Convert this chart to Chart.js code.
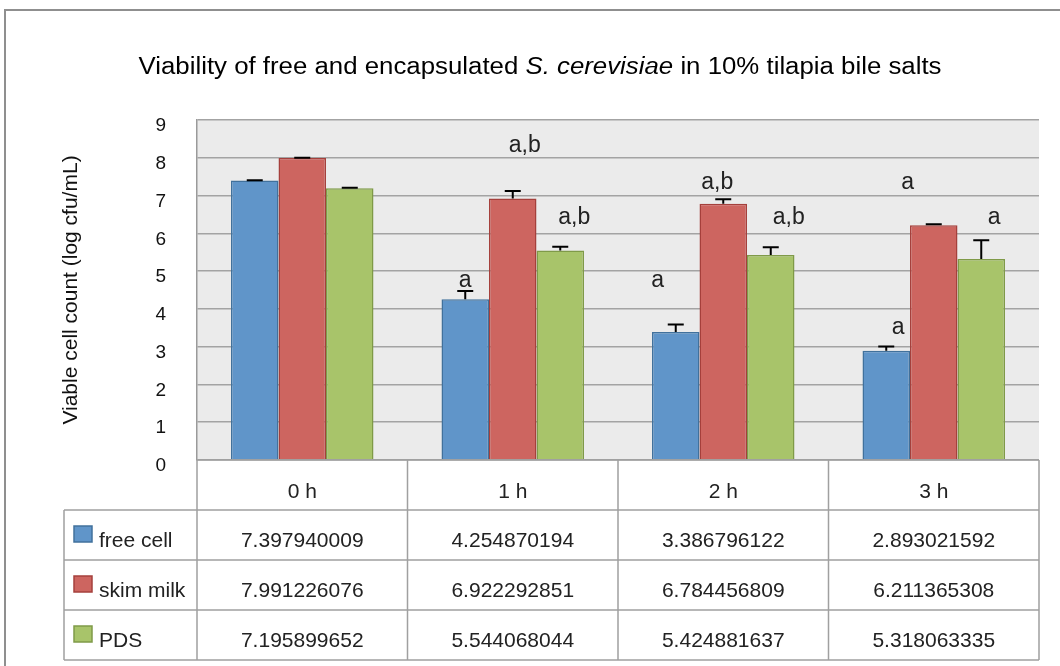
<!DOCTYPE html>
<html>
<head>
<meta charset="utf-8">
<script src="https://cdn.jsdelivr.net/npm/chart.js@4"></script>
<style>
  body { margin: 0; background: #fff; }
</style>
</head>
<body>
<canvas id="viability" width="1060" height="666"></canvas>
<script>
const categories = ["0 h", "1 h", "2 h", "3 h"];
const freeCell = [7.397940009, 4.254870194, 3.386796122, 2.893021592];
const skimMilk = [7.991226076, 6.922292851, 6.784456809, 6.211365308];
const pds = [7.195899652, 5.544068044, 5.424881637, 5.318063335];

// error bar size
const freeCellErr = [0.01, 0.22, 0.2, 0.11];
const skimMilkErr = [0.01, 0.2, 0.12, 0.03];
const pdsErr = [0.01, 0.1, 0.21, 0.5];

// significance letters and the height (in log units) they sit at
const freeCellMarks = ["", "a", "a", "a"];
const freeCellMarkAt = [0, 4.76, 4.76, 3.49];
const skimMilkMarks = ["", "a,b", "a,b", "a"];
const skimMilkMarkAt = [0, 8.31, 7.33, 7.33];
const pdsMarks = ["", "a,b", "a,b", "a"];
const pdsMarkAt = [0, 6.41, 6.41, 6.41];

// sideways nudge of the letters, px
const markShift = [
  [0, 0, -18, 12],
  [0, 12, -6, -26],
  [0, 14, 18, 13],
];

const FONT = '"Liberation Sans", Arial, sans-serif';
Chart.defaults.font.family = FONT;
Chart.defaults.color = "#111";

const errs = [freeCellErr, skimMilkErr, pdsErr];
const marks = [freeCellMarks, skimMilkMarks, pdsMarks];
const markAt = [freeCellMarkAt, skimMilkMarkAt, pdsMarkAt];

const TABLE_TOP_ROW = 50;
const ROW_H = 50;
const LEGEND_LEFT = 64;
const TITLE_W = 803;

const excelLook = {
  id: "excelLook",
  beforeDraw(chart) {
    const { ctx, chartArea: a } = chart;
    ctx.save();
    ctx.fillStyle = "#fff";
    ctx.fillRect(0, 0, chart.width, chart.height);
    // outer frame
    ctx.strokeStyle = "#8f8f8f";
    ctx.lineWidth = 2;
    ctx.beginPath();
    ctx.moveTo(5, chart.height);
    ctx.lineTo(5, 10);
    ctx.lineTo(chart.width, 10);
    ctx.stroke();
    // plot area
    ctx.fillStyle = "#ebebeb";
    ctx.fillRect(a.left, a.top, a.right - a.left, a.bottom - a.top);
    ctx.restore();

    // title with italic species name, stretched a bit like the original
    const parts = [
      ["normal", "Viability of free and encapsulated "],
      ["italic", "S. cerevisiae"],
      ["normal", " in 10% tilapia bile salts"],
    ];
    ctx.save();
    let total = 0;
    parts.forEach((p) => {
      ctx.font = p[0] + " 23px " + FONT;
      total += ctx.measureText(p[1]).width;
    });
    const sx = TITLE_W / total;
    ctx.translate(540 - TITLE_W / 2, 68);
    ctx.scale(sx, 1);
    let x = 0;
    ctx.fillStyle = "#000";
    ctx.textBaseline = "middle";
    ctx.textAlign = "left";
    parts.forEach((p) => {
      ctx.font = p[0] + " 23px " + FONT;
      ctx.fillText(p[1], x, 0);
      x += ctx.measureText(p[1]).width;
    });
    ctx.restore();
  },
  afterDatasetsDraw(chart) {
    const { ctx } = chart;
    const y = chart.scales.y;
    ctx.save();
    chart.data.datasets.forEach((ds, d) => {
      const meta = chart.getDatasetMeta(d);
      meta.data.forEach((bar, i) => {
        const top = y.getPixelForValue(ds.data[i] + errs[d][i]);
        ctx.strokeStyle = "#000";
        ctx.lineWidth = 2;
        ctx.beginPath();
        ctx.moveTo(bar.x, bar.y);
        ctx.lineTo(bar.x, top);
        ctx.moveTo(bar.x - 8, top);
        ctx.lineTo(bar.x + 8, top);
        ctx.stroke();

        if (marks[d][i]) {
          ctx.fillStyle = "#222";
          ctx.font = "23px " + FONT;
          ctx.textAlign = "center";
          ctx.textBaseline = "middle";
          ctx.fillText(marks[d][i], bar.x + markShift[d][i], y.getPixelForValue(markAt[d][i]));
        }
      });
    });
    ctx.restore();
  },
  afterDraw(chart) {
    const { ctx, chartArea: a } = chart;
    const n = categories.length;
    const cw = (a.right - a.left) / n;
    const t0 = a.bottom;
    const t1 = t0 + TABLE_TOP_ROW;
    const rows = chart.data.datasets.length;
    const tEnd = t1 + rows * ROW_H;
    ctx.save();
    ctx.strokeStyle = "#a0a0a0";
    ctx.lineWidth = 1.5;
    ctx.beginPath();
    ctx.moveTo(a.left, t0);
    ctx.lineTo(a.right, t0);
    for (let r = 0; r <= rows; r++) {
      ctx.moveTo(LEGEND_LEFT, t1 + r * ROW_H);
      ctx.lineTo(a.right, t1 + r * ROW_H);
    }
    for (let c = 0; c <= n; c++) {
      ctx.moveTo(a.left + c * cw, t0);
      ctx.lineTo(a.left + c * cw, tEnd);
    }
    ctx.moveTo(LEGEND_LEFT, t1);
    ctx.lineTo(LEGEND_LEFT, tEnd);
    ctx.stroke();

    ctx.fillStyle = "#222";
    ctx.font = "21px " + FONT;
    ctx.textBaseline = "middle";
    ctx.textAlign = "center";
    categories.forEach((c, i) => {
      ctx.fillText(c, a.left + (i + 0.5) * cw, t0 + TABLE_TOP_ROW / 2 + 7);
    });
    chart.data.datasets.forEach((ds, r) => {
      const rowTop = t1 + r * ROW_H;
      ds.data.forEach((v, i) => {
        ctx.textAlign = "center";
        ctx.fillText(String(v), a.left + (i + 0.5) * cw, rowTop + ROW_H / 2 + 6);
      });
      ctx.fillStyle = ds.backgroundColor;
      ctx.fillRect(74, rowTop + 16, 18, 16);
      ctx.strokeStyle = ds.borderColor;
      ctx.lineWidth = 1.5;
      ctx.strokeRect(74, rowTop + 16, 18, 16);
      ctx.fillStyle = "#222";
      ctx.textAlign = "left";
      ctx.fillText(ds.label, 99, rowTop + ROW_H / 2 + 6);
    });
    ctx.restore();
  },
};

new Chart(document.getElementById("viability"), {
  type: "bar",
  data: {
    labels: categories,
    datasets: [
      {
        label: "free cell",
        data: freeCell,
        backgroundColor: "#6095c9",
        borderColor: "#41719c",
        borderWidth: 1.5,
      },
      {
        label: "skim milk",
        data: skimMilk,
        backgroundColor: "#cd6560",
        borderColor: "#a5403c",
        borderWidth: 1.5,
      },
      {
        label: "PDS",
        data: pds,
        backgroundColor: "#a8c46a",
        borderColor: "#7f9a48",
        borderWidth: 1.5,
      },
    ],
  },
  options: {
    responsive: false,
    animation: false,
    layout: { padding: { left: 5, right: 21, top: 120, bottom: 206 } },
    plugins: {
      legend: { display: false },
      title: { display: false },
      tooltip: { enabled: false },
    },
    datasets: {
      bar: { categoryPercentage: 0.677, barPercentage: 1.0 },
    },
    scales: {
      x: { display: false },
      y: {
        min: 0,
        max: 9,
        ticks: { stepSize: 1, padding: 31, labelOffset: 6, color: "#111", font: { size: 19 } },
        grid: { color: "#a3a3a3", lineWidth: 1.5, drawTicks: false },
        border: { display: true, color: "#9a9a9a", width: 1.5 },
        title: {
          display: true,
          text: "Viable cell count (log cfu/mL)",
          color: "#111",
          font: { size: 21 },
          padding: { top: 54, bottom: 0 },
        },
        afterFit(scale) {
          scale.width = 192;
        },
      },
    },
  },
  plugins: [excelLook],
});
</script>
</body>
</html>
